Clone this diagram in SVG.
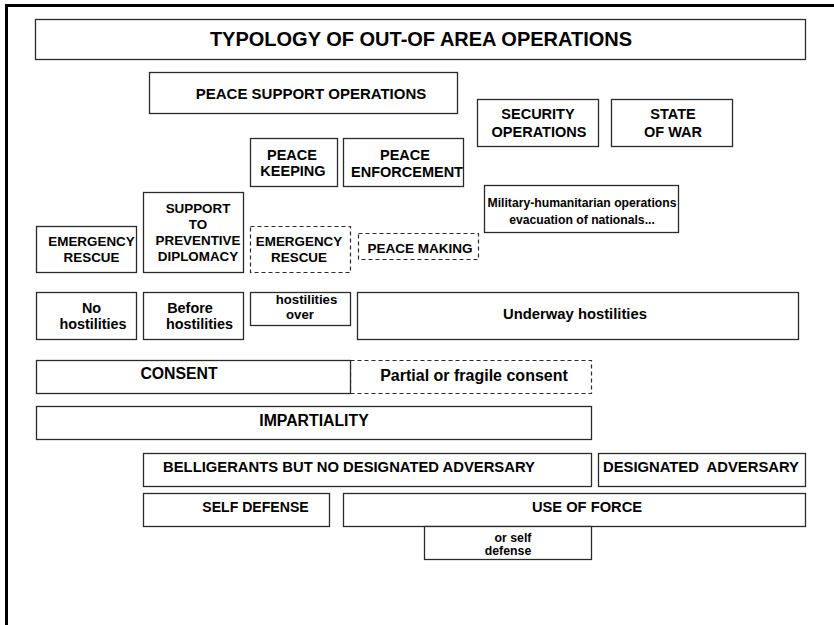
<svg xmlns="http://www.w3.org/2000/svg" width="834" height="625" viewBox="0 0 834 625">
<style>
.b{fill:#fff;stroke:#2a2a2a;stroke-width:1.3}
.d{fill:#fff;stroke:#2a2a2a;stroke-width:1.2;stroke-dasharray:4 3}
text{font-family:"Liberation Sans",Arial,sans-serif;font-weight:bold;fill:#000;text-anchor:middle}
</style>
<rect width="834" height="625" fill="#fff"/>
<path d="M6.5,625 V5.5 H834" fill="none" stroke="#000" stroke-width="3"/>
<g id="connectors"/>
<g id="title"><rect class="b" x="35.5" y="19.5" width="770" height="40"/><text x="421" y="46" font-size="20">TYPOLOGY OF OUT-OF AREA OPERATIONS</text></g>
<g id="pso"><rect class="b" x="149.5" y="72.5" width="308" height="41"/><text x="311" y="99" font-size="15">PEACE SUPPORT OPERATIONS</text></g>
<g id="security"><rect class="b" x="477.5" y="99.5" width="121" height="47"/><text x="538" y="119" font-size="14.5">SECURITY</text><text x="539" y="136.5" font-size="14.5">OPERATIONS</text></g>
<g id="statewar"><rect class="b" x="611.5" y="99.5" width="121" height="47"/><text x="673" y="119" font-size="14.5">STATE</text><text x="673" y="136.5" font-size="14.5">OF WAR</text></g>
<g id="peacekeeping"><rect class="b" x="250.5" y="138.5" width="87" height="48"/><text x="292" y="160" font-size="14.5">PEACE</text><text x="293" y="176" font-size="14.5">KEEPING</text></g>
<g id="peaceenforcement"><rect class="b" x="343.5" y="138.5" width="120" height="48"/><text x="405" y="160" font-size="14.5">PEACE</text><text x="407" y="176.5" font-size="14.5">ENFORCEMENT</text></g>
<g id="military"><rect class="b" x="484.5" y="185.5" width="194" height="47"/><text x="582" y="206.5" font-size="12.2">Military-humanitarian operations</text><text x="582" y="223.5" font-size="12.2">evacuation of nationals...</text></g>
<g id="support"><rect class="b" x="143.5" y="192.5" width="100" height="80"/><text x="198" y="213" font-size="13.4">SUPPORT</text><text x="198" y="228.5" font-size="13.4">TO</text><text x="198" y="245" font-size="13.4">PREVENTIVE</text><text x="198" y="260.5" font-size="13.4">DIPLOMACY</text></g>
<g id="emergency1"><rect class="b" x="36.5" y="226.5" width="100" height="46"/><text x="91.5" y="246" font-size="13.4">EMERGENCY</text><text x="91.5" y="262" font-size="13.4">RESCUE</text></g>
<g id="emergency2"><rect class="d" x="250.5" y="226.5" width="100" height="46"/><text x="299" y="246" font-size="13.4">EMERGENCY</text><text x="299" y="262" font-size="13.4">RESCUE</text></g>
<g id="peacemaking"><rect class="d" x="358.5" y="233.5" width="120" height="26"/><text x="420" y="252.5" font-size="13.5">PEACE MAKING</text></g>
<g id="nohostilities"><rect class="b" x="36.5" y="292.5" width="100" height="47"/><text x="91.5" y="312.7" font-size="14.4">No</text><text x="93" y="329.3" font-size="14.4">hostilities</text></g>
<g id="beforehostilities"><rect class="b" x="143.5" y="292.5" width="100" height="47"/><text x="190" y="312.7" font-size="14.4">Before</text><text x="199.5" y="329.3" font-size="14.4">hostilities</text></g>
<g id="hostilitiesover"><rect class="b" x="250.5" y="292.5" width="100" height="33"/><text x="306.5" y="304" font-size="13.2">hostilities</text><text x="300" y="319" font-size="13.2">over</text></g>
<g id="underway"><rect class="b" x="357.5" y="292.5" width="441" height="47"/><text x="575" y="319.3" font-size="14.8">Underway hostilities</text></g>
<g id="partial"><rect class="d" x="350.5" y="360.5" width="241" height="33"/><text x="474" y="381" font-size="16">Partial or fragile consent</text></g>
<g id="consent"><rect class="b" x="36.5" y="360.5" width="314" height="33"/><text x="179" y="379.3" font-size="15.8">CONSENT</text></g>
<g id="impartiality"><rect class="b" x="36.5" y="406.5" width="555" height="33"/><text x="314" y="426" font-size="15.8">IMPARTIALITY</text></g>
<g id="belligerants"><rect class="b" x="143.5" y="453.5" width="448" height="33"/><text x="349" y="471.7" font-size="14.8">BELLIGERANTS BUT NO DESIGNATED ADVERSARY</text></g>
<g id="designated"><rect class="b" x="598.5" y="453.5" width="207" height="33"/><text x="701" y="471.7" font-size="14.8">DESIGNATED&#160; ADVERSARY</text></g>
<g id="selfdefense"><rect class="b" x="143.5" y="493.5" width="186" height="33"/><text x="255.5" y="511.7" font-size="14.1">SELF DEFENSE</text></g>
<g id="useofforce"><rect class="b" x="343.5" y="493.5" width="462" height="33"/><text x="587" y="511.7" font-size="14.7">USE OF FORCE</text></g>
<g id="orselfdefense"><rect class="b" x="424.5" y="526.5" width="167" height="33"/><text x="513" y="542.3" font-size="12.3">or self</text><text x="508" y="555" font-size="12.3">defense</text></g>
</svg>
